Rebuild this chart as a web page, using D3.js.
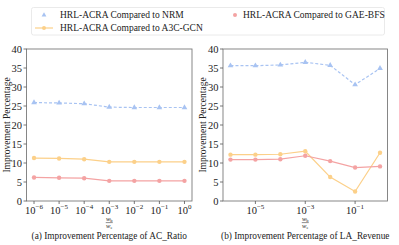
<!DOCTYPE html>
<html><head><meta charset="utf-8">
<script src="https://cdn.jsdelivr.net/npm/d3@7"></script>
<style>body{margin:0;background:#fff}svg, svg text{font-family:"Liberation Serif","Times New Roman",Times,serif}</style>
</head><body><svg id="c" width="399" height="245"></svg>
<script>
const exps = [-6, -5, -4, -3, -2, -1, 0];
const seriesNames = ["HRL-ACRA Compared to NRM", "HRL-ACRA Compared to A3C-GCN", "HRL-ACRA Compared to GAE-BFS"];
const acNRM = [25.9, 25.8, 25.6, 24.7, 24.6, 24.6, 24.6];
const acA3C = [11.3, 11.2, 11.0, 10.3, 10.3, 10.3, 10.3];
const acGAE = [6.2, 6.1, 6.0, 5.3, 5.3, 5.3, 5.3];
const laNRM = [35.6, 35.6, 35.8, 36.5, 35.7, 30.6, 34.9];
const laA3C = [12.2, 12.2, 12.3, 13.1, 6.3, 2.5, 12.7];
const laGAE = [10.9, 10.9, 11.0, 11.9, 10.5, 8.8, 9.1];
const yTicks = [0, 5, 10, 15, 20, 25, 30, 35, 40];
const leftXTicks = [-6, -5, -4, -3, -2, -1, 0];
const rightXTicks = [-5, -3, -1];
const captions = ["(a) Improvement Percentage of AC_Ratio", "(b) Improvement Percentage of LA_Revenue"];

const colors = ["#a8c3f2", "#fcd089", "#f4a3a3"];
const svg = d3.select("#c");

function panel(x0, x1, data, xt, caption) {
  const top = 49, bot = 201;
  const x = d3.scaleLog().domain([Math.pow(10, -6.3), Math.pow(10, 0.3)]).range([x0, x1]);
  const y = d3.scaleLinear().domain([0, 40]).range([bot, top]);
  const g = svg.append("g");
  data.forEach((vals, si) => {
    const pts = vals.map((v, i) => [x(Math.pow(10, exps[i])), y(v)]);
    g.append("path").attr("d", d3.line()(pts)).attr("fill", "none")
      .attr("stroke", colors[si]).attr("stroke-width", 1.2)
      .attr("stroke-dasharray", si === 0 ? "3,2" : null);
    pts.forEach(p => {
      if (si === 0) {
        g.append("path").attr("d", d3.symbol(d3.symbolTriangle, 14)())
          .attr("transform", `translate(${p[0]},${p[1]})`).attr("fill", colors[si]);
      } else {
        g.append("circle").attr("cx", p[0]).attr("cy", p[1]).attr("r", 2.2).attr("fill", colors[si]);
      }
    });
  });
  g.append("rect").attr("x", x0).attr("y", top).attr("width", x1 - x0).attr("height", bot - top)
    .attr("fill", "none").attr("stroke", "#7a7a7a").attr("stroke-width", 0.9);
  yTicks.forEach(t => {
    g.append("line").attr("x1", x0 - 3).attr("x2", x0).attr("y1", y(t)).attr("y2", y(t)).attr("stroke", "#555").attr("stroke-width", 0.8);
    g.append("text").attr("x", x0 - 4.5).attr("y", y(t)).attr("dy", "0.35em").attr("text-anchor", "end")
      .attr("font-size", 10.5).attr("fill", "#222").text(t);
  });
  xt.forEach(e => {
    const px = x(Math.pow(10, e));
    g.append("line").attr("x1", px).attr("x2", px).attr("y1", bot).attr("y2", bot + 3).attr("stroke", "#555").attr("stroke-width", 0.8);
    const t = g.append("text").attr("x", px).attr("y", bot + 13).attr("text-anchor", "middle").attr("fill", "#222")
      .attr("font-size", 10.5);
    t.append("tspan").text("10");
    t.append("tspan").attr("dy", -5).attr("font-size", 7).text(e === 0 ? "0" : "\u2212" + (-e));
  });
  const cx = x0 - 17, cy = (top + bot) / 2;
  g.append("text").attr("transform", `translate(${cx},${cy}) rotate(-90)`).attr("text-anchor", "middle")
    .attr("font-size", 9.5).attr("fill", "#222").text("Improvement Percentage");
  const mx = (x0 + x1) / 2;
  g.append("text").attr("x", mx).attr("y", 220.8).attr("text-anchor", "middle").attr("font-size", 6.5).attr("font-style", "italic").attr("fill", "#222")
    .html('w<tspan font-size="4.5" dy="1" font-style="normal">b</tspan>');
  g.append("line").attr("x1", mx - 3.5).attr("x2", mx + 3.5).attr("y1", 222.6).attr("y2", 222.6).attr("stroke", "#222").attr("stroke-width", 0.5);
  g.append("text").attr("x", mx).attr("y", 227.5).attr("text-anchor", "middle").attr("font-size", 6.5).attr("font-style", "italic").attr("fill", "#222")
    .html('w<tspan font-size="4.5" dy="1" font-style="normal">e</tspan>');
  g.append("text").attr("x", mx).attr("y", 239).attr("text-anchor", "middle").attr("font-size", 9.3).attr("fill", "#222").text(caption);
}

panel(26.5, 192, [acNRM, acA3C, acGAE], leftXTicks, captions[0]);
panel(223, 387.5, [laNRM, laA3C, laGAE], rightXTicks, captions[1]);

const lg = svg.append("g");
lg.append("rect").attr("x", 31.5).attr("y", 7.5).attr("width", 353).attr("height", 27.5).attr("rx", 2)
  .attr("fill", "#fff").attr("stroke", "#e4e4e4").attr("stroke-width", 0.8);
const legPos = [[35, 15], [35, 28], [226, 15]];
seriesNames.forEach((n, i) => {
  const [lx, ly] = legPos[i];
  const mx = lx + 9;
  if (i === 1) {
    lg.append("line").attr("x1", lx).attr("x2", lx + 18).attr("y1", ly).attr("y2", ly).attr("stroke", colors[i]).attr("stroke-width", 1.2);
  }
  if (i === 0) {
    lg.append("path").attr("d", d3.symbol(d3.symbolTriangle, 10)()).attr("transform", `translate(${mx},${ly})`).attr("fill", colors[i]);
  } else {
    lg.append("circle").attr("cx", mx).attr("cy", ly).attr("r", 2).attr("fill", colors[i]);
  }
  lg.append("text").attr("x", i === 2 ? lx + 17 : lx + 25).attr("y", ly).attr("dy", "0.35em")
    .attr("font-size", 9.5).attr("fill", "#222").text(n);
});
</script></body></html>
